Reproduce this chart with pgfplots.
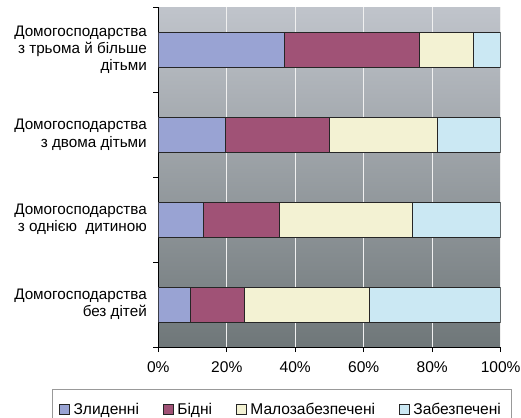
\documentclass[border=0pt]{standalone}
\usepackage{pgfplots}
\pgfplotsset{compat=1.18}
\usepackage{fontspec}
\setmainfont{Liberation Sans}
\definecolor{czl}{HTML}{99A3D3}
\definecolor{cbi}{HTML}{A05276}
\definecolor{cma}{HTML}{F3F2D3}
\definecolor{cza}{HTML}{CBE8F3}
\definecolor{bgtop}{HTML}{C0C4CB}
\definecolor{bgbot}{HTML}{6F7779}
\begin{document}
\begin{tikzpicture}
\begin{axis}[
  name=ax,
  scale only axis,
  width=342.4bp, height=339.7bp,
  xbar stacked, bar width=35bp,
  xmin=0, xmax=100, ymin=-0.5, ymax=3.5,
  axis x line*=bottom, axis y line*=left,
  axis line style={-, black, line width=0.8pt},
  axis background/.style={top color=bgtop, bottom color=bgbot},
  xtick={0,20,...,100},
  xticklabel={\pgfmathprintnumber{\tick}\%},
  /pgf/number format/assume math mode=true,
  tick align=outside,
  major tick length=5bp, minor tick length=5bp,
  tick style={black, line width=0.8pt},
  xmajorgrids,
  major x grid style={white!88!gray, line width=0.8pt},
  ytick={0,1,2,3},
  major y tick style={draw=none},
  minor ytick={-0.5,0.5,1.5,2.5,3.5},
  yticklabels={{Домогосподарства\\без дітей},
               {Домогосподарства\\з однією\ \ дитиною},
               {Домогосподарства\\з двома дітьми},
               {Домогосподарства\\з трьома й більше\\дітьми}},
  yticklabel style={align=right, font=\fontsize{15.3}{17.3}\selectfont, xshift=-3bp},
  xticklabel style={font=\fontsize{15.6}{17}\selectfont, yshift=-6bp},
  legend columns=-1,
  legend image code/.code={\draw[#1, line width=0.8pt] (0bp,-5bp) rectangle (10bp,5bp);},
  legend style={at={(-0.3105,-0.1236)}, anchor=north west,
    draw=gray!80, fill=white, line width=0.6pt,
    font=\fontsize{15.6}{17}\selectfont,
    inner xsep=7bp, inner ysep=12bp,
    nodes={inner xsep=3.5bp},
    /tikz/every even column/.append style={column sep=20.5bp}},
]
\addplot[fill=czl, draw=black!85, line width=0.9pt] coordinates {(9.5,0) (13.1,1) (19.7,2) (36.7,3)};
\addplot[fill=cbi, draw=black!85, line width=0.9pt] coordinates {(15.7,0) (22.4,1) (30.4,2) (39.5,3)};
\addplot[fill=cma, draw=black!85, line width=0.9pt] coordinates {(36.6,0) (38.6,1) (31.4,2) (15.9,3)};
\addplot[fill=cza, draw=black!85, line width=0.9pt] coordinates {(38.2,0) (25.9,1) (18.5,2) (7.9,3)};
\legend{Злиденні, Бідні, Малозабезпечені, Забезпечені}
\end{axis}
\pgfresetboundingbox
\path[use as bounding box] ([xshift=-158.3bp,yshift=-71bp]ax.south west) rectangle ([xshift=20.3bp,yshift=7.3bp]ax.north east);
\end{tikzpicture}
\end{document}
